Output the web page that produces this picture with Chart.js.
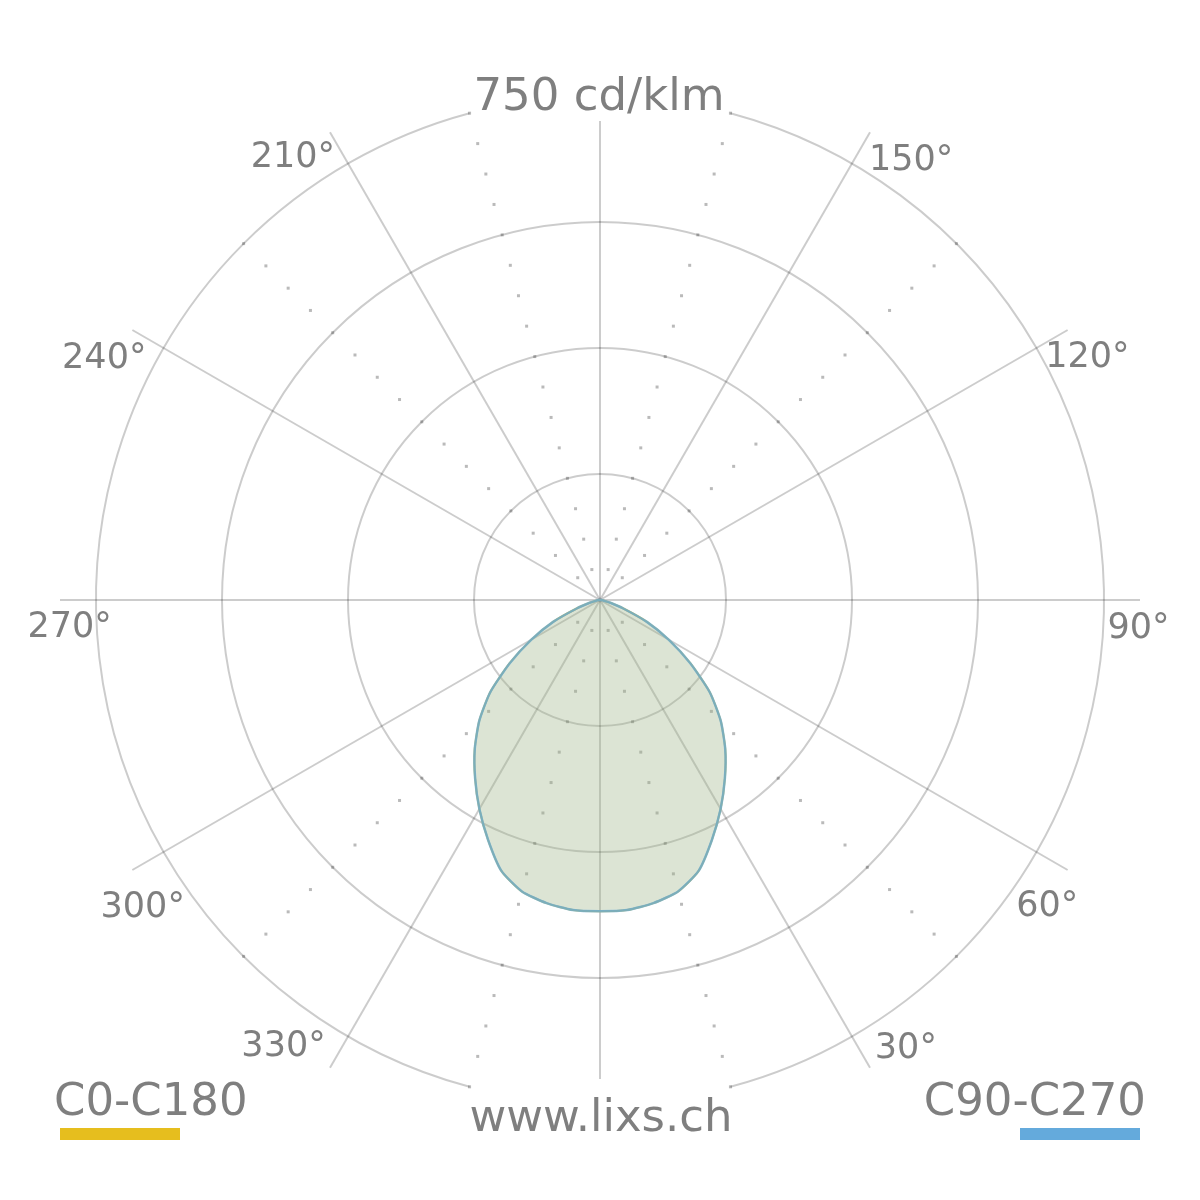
<!DOCTYPE html>
<html>
<head>
<meta charset="utf-8">
<title>Lichtverteilung</title>
<script src="https://cdn.jsdelivr.net/npm/chart.js@4.4.1/dist/chart.umd.min.js"></script>
<style>
    html, body { margin: 0; padding: 0; background: #ffffff; }
    #ldc { display: block; }
</style>
</head>
<body>
<canvas id="ldc" width="1200" height="1200"></canvas>
<script>
// Gamma angles (deg from nadir) and intensity in cd/klm
var gammaAngles = [0, 5, 10, 15, 20, 25, 30, 35, 40, 45, 50, 55, 60, 65, 70, 75, 80, 85, 90];
var c0c180  = [463, 463, 458, 449, 429, 394, 359, 324, 290, 254, 213, 164, 118, 77, 37, 16, 6, 1.5, 0];
var c90c270 = [463, 463, 458, 449, 429, 394, 359, 324, 290, 254, 213, 164, 118, 77, 37, 16, 6, 1.5, 0];

// Rings, labelled angles and dotted helper lines
var ringValues = [187.5, 375, 562.5, 750];
var angleTicks = [30, 60, 90, 120, 150, 210, 240, 270, 300, 330];
var dottedAngles = [15, 45, 135, 165, 195, 225, 315, 345];
var scaleMax = 750;
var titleText = '750 cd/klm';
var siteText = 'www.lixs.ch';
var legendLabels = ['C0-C180', 'C90-C270'];

var FONT = '"DejaVu Sans", "Liberation Sans", sans-serif';
var TEXT_COLOR = '#7f7f7f';
var GRID_COLOR = 'rgba(0, 0, 0, 0.2)';
var YELLOW = 'rgb(230, 190, 30)';
var BLUE = 'rgb(100, 170, 220)';

// diagram angles, clockwise on screen starting at the bottom (0°)
var diagramAngles = [];
for (var k = 0; k < 72; k++) {
    diagramAngles.push((360 - 5 * k) % 360);
}

// map a gamma profile onto the diagram angles (upper half has no light)
function toDiagram(values) {
    return diagramAngles.map(function(a) {
        var g = a <= 90 ? a : (a >= 270 ? 360 - a : -1);
        if (g < 0) return 0;
        return values[gammaAngles.indexOf(g)];
    });
}

// placement (angle, radius px) of the angle captions
var labelPlace = {
    30: [34.5, 540], 60: [55.9, 540], 90: [87.3, 539], 120: [116.8, 546], 150: [144.9, 541],
    210: [214.6, 541], 240: [243.7, 553], 270: [272.6, 531], 300: [303.6, 549], 330: [324.5, 545]
};

function polar(scale, deg, dist) {
    var t = deg * Math.PI / 180;
    return { x: scale.xCenter + dist * Math.sin(t), y: scale.yCenter + dist * Math.cos(t) };
}

var ldcPlugin = {
    id: 'ldcDecor',
    beforeDatasetsDraw: function(chart) {
        var s = chart.scales.r;
        var ctx = chart.ctx;
        var rOuter = s.getDistanceFromCenterForValue(ringValues[ringValues.length - 1]);
        ctx.save();
        ctx.strokeStyle = GRID_COLOR;
        ctx.lineWidth = 2;
        // outer ring, open at top and bottom for the texts
        ctx.beginPath();
        ctx.arc(s.xCenter, s.yCenter, rOuter, -75 * Math.PI / 180, 75 * Math.PI / 180);
        ctx.stroke();
        ctx.beginPath();
        ctx.arc(s.xCenter, s.yCenter, rOuter, 105 * Math.PI / 180, 255 * Math.PI / 180);
        ctx.stroke();
        // vertical axis (0° / 180°), a bit shorter
        var rv = s.getDistanceFromCenterForValue(scaleMax * 479 / 504);
        ctx.beginPath();
        ctx.moveTo(s.xCenter, s.yCenter - rv);
        ctx.lineTo(s.xCenter, s.yCenter + rv);
        ctx.stroke();
        // dotted radial lines
        ctx.fillStyle = 'rgba(0, 0, 0, 0.27)';
        dottedAngles.forEach(function(a) {
            for (var j = 1; j <= 16; j++) {
                var p = polar(s, a, s.getDistanceFromCenterForValue(ringValues[0] / 4 * j));
                ctx.fillRect(p.x - 1.5, p.y - 1.5, 3, 3);
            }
        });
        ctx.restore();
    },
    afterDraw: function(chart) {
        var s = chart.scales.r;
        var ctx = chart.ctx;
        ctx.save();
        ctx.fillStyle = TEXT_COLOR;
        ctx.textAlign = 'center';
        ctx.textBaseline = 'alphabetic';

        // angle captions
        ctx.font = '35px ' + FONT;
        angleTicks.forEach(function(a) {
            var pl = labelPlace[a];
            var p = polar(s, pl[0], pl[1]);
            ctx.fillText(a + '°', p.x, p.y + 12.8);
        });

        // scale title and site
        ctx.font = '45px ' + FONT;
        ctx.fillText(titleText, s.xCenter - 1, 110);
        ctx.fillText(siteText, s.xCenter + 1, 1131);

        // legend
        ctx.font = '45px ' + FONT;
        ctx.textAlign = 'left';
        ctx.fillText(legendLabels[0], 54, 1115);
        ctx.textAlign = 'right';
        ctx.fillText(legendLabels[1], 1146, 1115);
        ctx.fillStyle = YELLOW;
        ctx.fillRect(60, 1128, 120, 12);
        ctx.fillStyle = BLUE;
        ctx.fillRect(1020, 1128, 120, 12);
        ctx.restore();
    }
};

var ctx = document.getElementById('ldc').getContext('2d');
var chart = new Chart(ctx, {
    type: 'radar',
    data: {
        labels: diagramAngles.map(function(a) { return a + '°'; }),
        datasets: [
            {
                label: legendLabels[0],
                data: toDiagram(c0c180),
                borderColor: YELLOW,
                backgroundColor: 'rgba(230, 190, 30, 0.2)',
                borderWidth: 2,
                pointRadius: 0,
                fill: true,
                tension: 0.2,
                order: 1
            },
            {
                label: legendLabels[1],
                data: toDiagram(c90c270),
                borderColor: 'rgba(100, 170, 220, 0.8)',
                backgroundColor: 'rgba(100, 170, 220, 0.2)',
                borderWidth: 2.5,
                pointRadius: 0,
                fill: true,
                tension: 0.2,
                order: 0 // drawn on top
            }
        ]
    },
    options: {
        responsive: false,
        animation: false,
        devicePixelRatio: 1,
        layout: { padding: 60 },
        plugins: {
            legend: { display: false },
            tooltip: { enabled: false }
        },
        scales: {
            r: {
                min: 0,
                max: scaleMax * 540 / 504, // radial lines run a bit past the outer ring
                startAngle: 180,
                ticks: { display: false },
                afterBuildTicks: function(scale) {
                    // inner rings only, the outer one is drawn open by the plugin
                    scale.ticks = [0].concat(ringValues.slice(0, 3)).map(function(v) { return { value: v }; });
                },
                grid: { circular: true, color: GRID_COLOR, lineWidth: 2 },
                angleLines: {
                    lineWidth: 2,
                    color: function(c) {
                        var a = diagramAngles[c.index];
                        return (a % 30 === 0 && a !== 0 && a !== 180) ? GRID_COLOR : 'rgba(0, 0, 0, 0)';
                    }
                },
                pointLabels: { display: false }
            }
        }
    },
    plugins: [ldcPlugin]
});
</script>
</body>
</html>
